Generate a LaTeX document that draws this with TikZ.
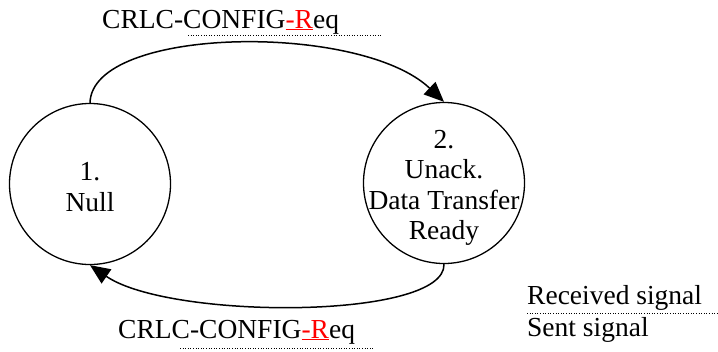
\documentclass[tikz,border=0pt]{standalone}
\usepackage{fontspec}
\setmainfont{Liberation Serif}
\usetikzlibrary{arrows.meta}
\begin{document}
\begin{tikzpicture}[x=1pt,y=-1pt,
  state/.style={draw,circle,line width=1.3pt,minimum size=161pt,inner sep=0pt},
  stext/.style={align=center,inner sep=0pt,font=\fontsize{27.5}{30.5}\selectfont},
  lbl/.style={anchor=base west,inner sep=0pt,font=\fontsize{27.5}{30}\selectfont},
  trans/.style={line width=1.5pt,-{Triangle[length=20pt,width=17pt]}},
  dotline/.style={line width=1pt,dash pattern=on 1pt off 1.6pt}]
\useasboundingbox (0,0) rectangle (718,351);
\node[state] (n1) at (90,184) {};
\node[state] (n2) at (444,183) {};
\node[stext] (n1t) at (90,187) {1.\\Null};
\node[stext] (n2t) at (444,188) {2.\\Unack.\\Data Transfer\\Ready};
\draw[trans] (n1.north) .. controls (92,26) and (360,22) .. (n2.north);
\draw[trans] (n2.south) .. controls (446,320) and (170,320) .. (n1.south);
\node[lbl] (t1) at (102,28) {CRLC-CONFIG{\color{red}\underline{-R}}eq};
\node[lbl] (t2) at (118,338) {CRLC-CONFIG{\color{red}\underline{-R}}eq};
\coordinate (d1a) at (188,35); \coordinate (d1b) at (383,35);
\coordinate (d2a) at (180,348); \coordinate (d2b) at (374,348);
\draw[dotline] (d1a) -- (d1b);
\draw[dotline] (d2a) -- (d2b);
\node[lbl] (r) at (527,304) {Received signal};
\node[lbl] (s) at (527,336) {Sent signal};
\coordinate (d3a) at (527,313); \coordinate (d3b) at (718,313);
\draw[dotline] (d3a) -- (d3b);
\end{tikzpicture}
\end{document}
